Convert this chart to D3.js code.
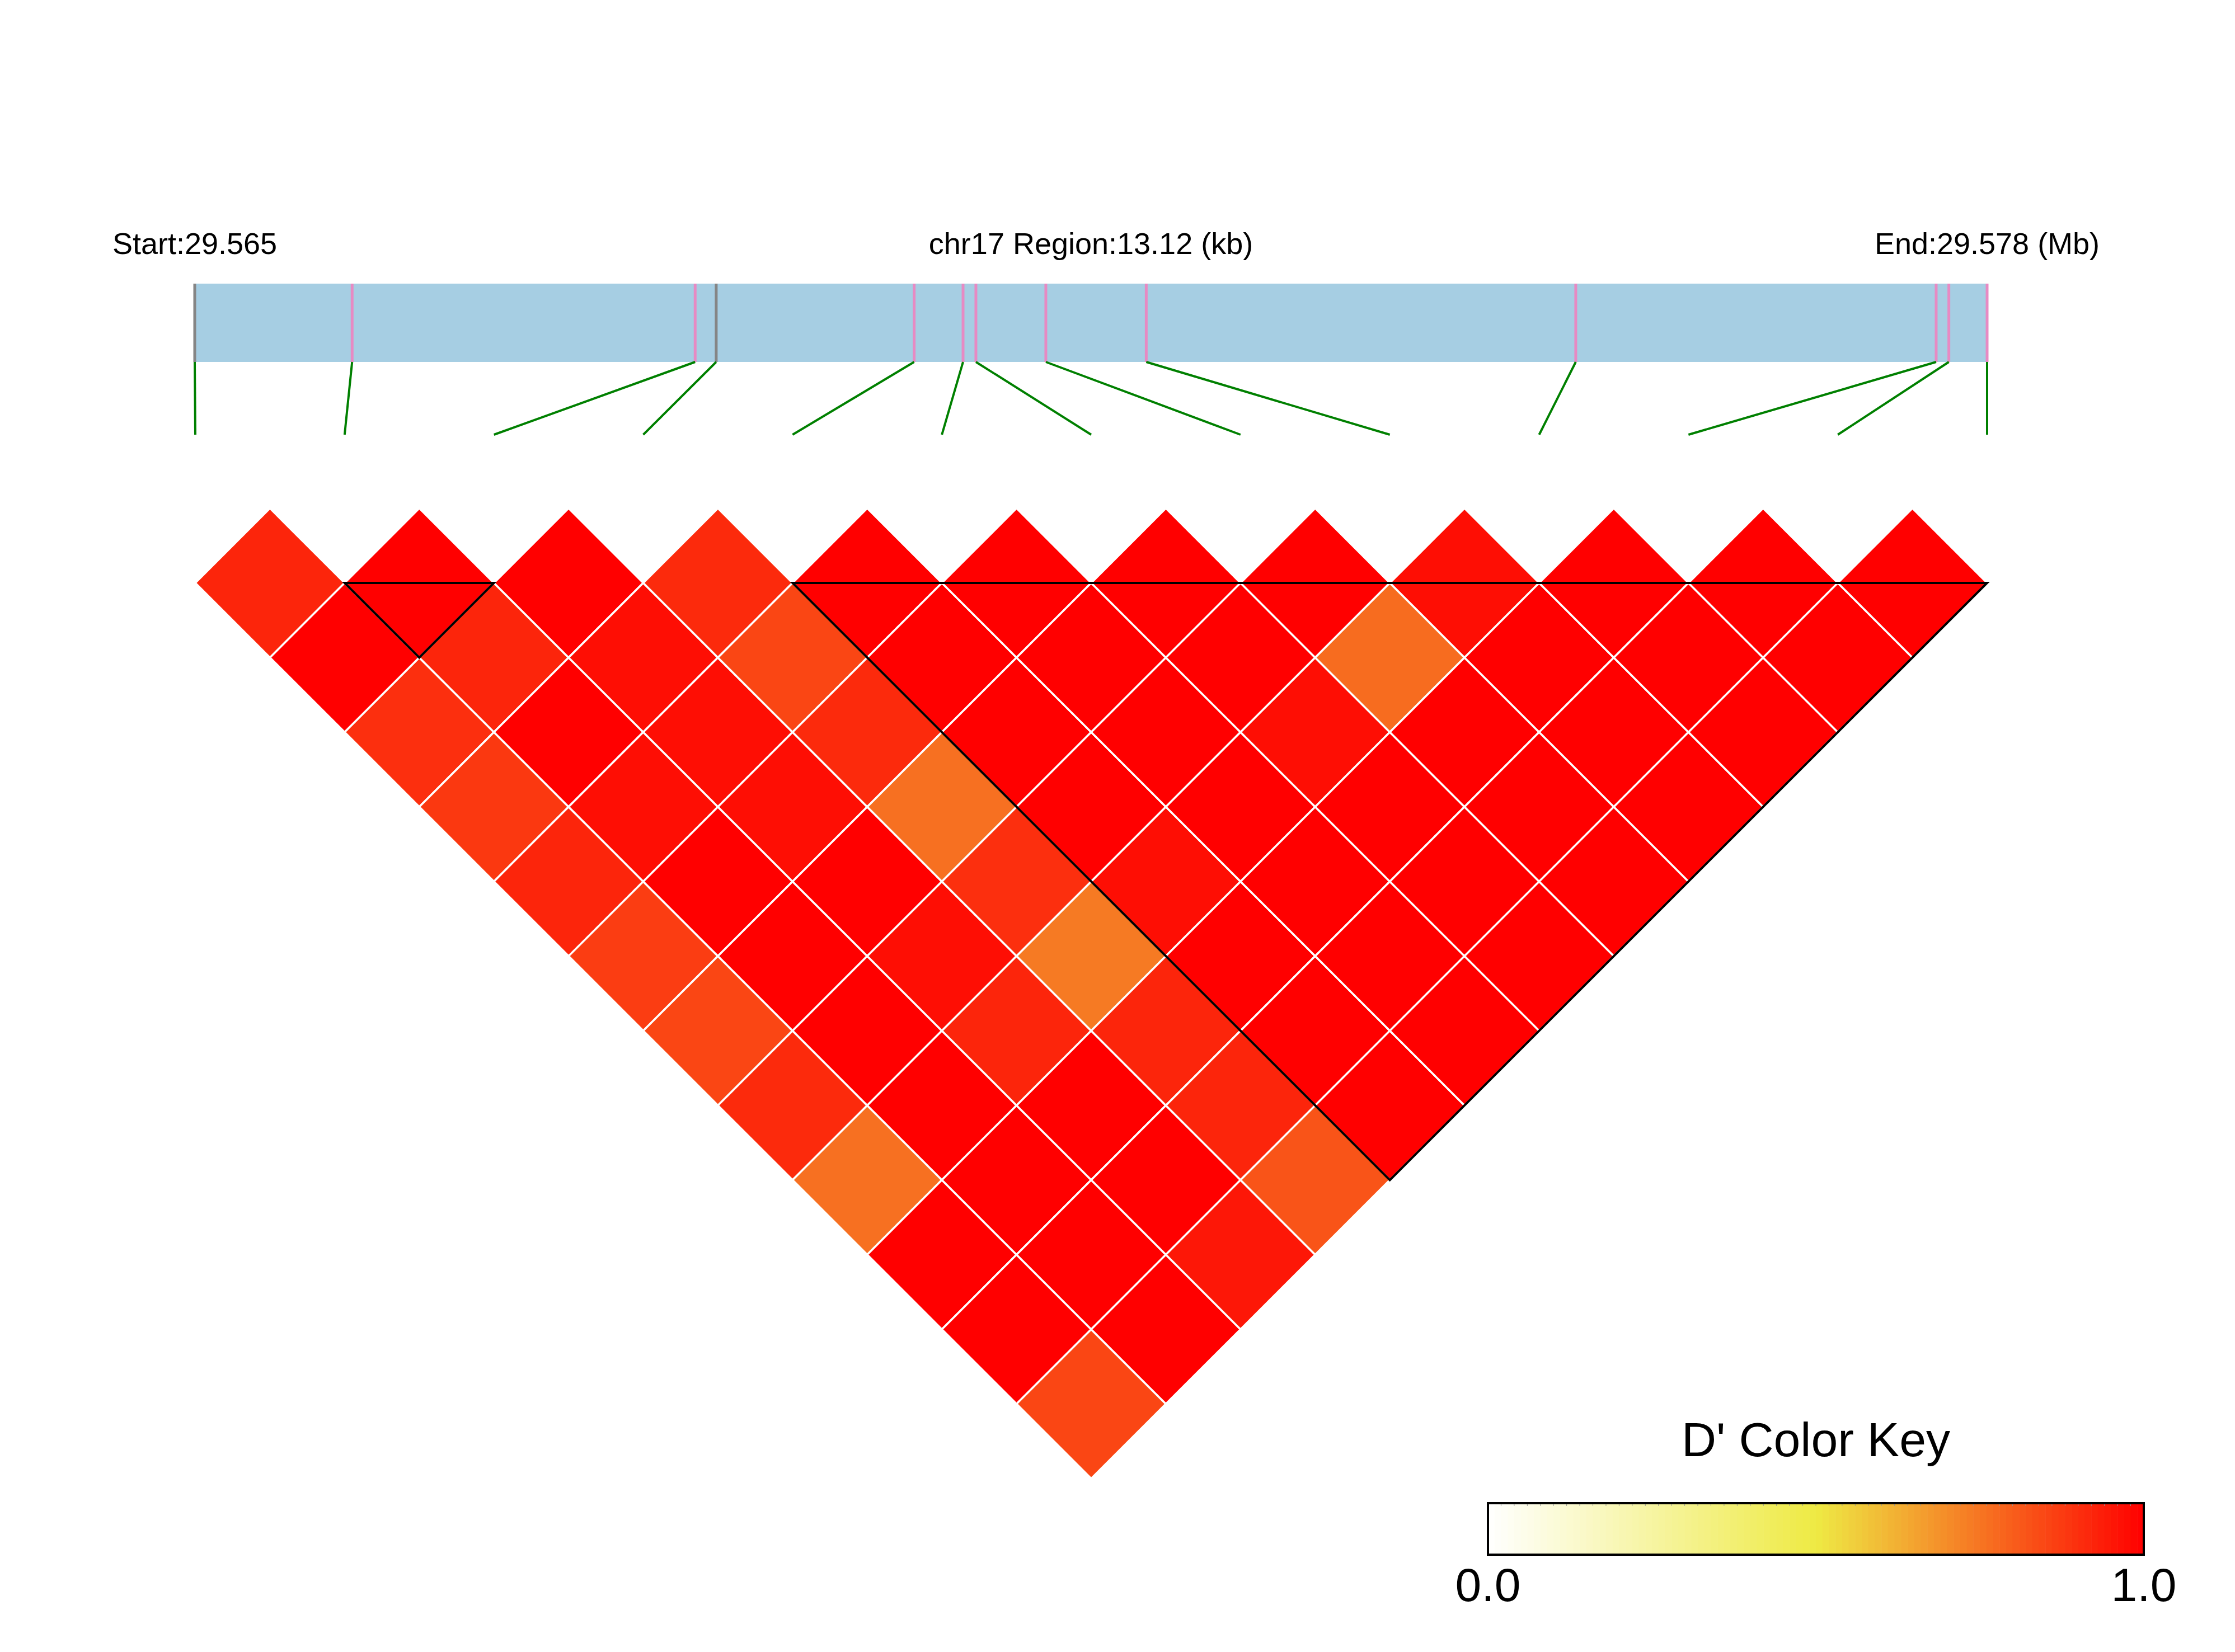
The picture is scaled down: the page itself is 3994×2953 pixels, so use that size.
<!DOCTYPE html>
<html>
<head>
<meta charset="utf-8">
<script src="https://d3js.org/d3.v7.min.js"></script>
<style>
  body { margin: 0; background: #fff; }
  text { font-family: "Liberation Sans", Arial, Helvetica, sans-serif; }
</style>
</head>
<body>
<div id="ld_heatmap"></div>
<script>
(function(){

var width = 3994,
	height = 2953;

// SNP positions (bp) on chr17
var chrom = "chr17";
var snpPos = [29565000, 29566152, 29568663, 29568817, 29570266, 29570624, 29570718,
	29571230, 29571965, 29575109, 29577747, 29577840, 29578120];
// marker colour on the gene bar: "g" grey, "p" pink
var snpType = ["g", "p", "p", "g", "p", "p", "p", "p", "p", "p", "p", "p", "p"];

// D' values, row i holds pairs (i, i+1) ... (i, 12)
var dprime = [
	[0.92, 1.00, 0.90, 0.88, 0.92, 0.87, 0.85, 0.91, 0.76, 1.00, 1.00, 0.85],
	[1.00, 0.92, 1.00, 0.97, 1.00, 1.00, 1.00, 1.00, 1.00, 1.00, 1.00],
	[1.00, 0.97, 0.97, 0.97, 1.00, 0.97, 0.92, 1.00, 1.00, 0.95],
	[0.91, 0.85, 0.91, 0.76, 0.90, 0.74, 0.92, 0.92, 0.82],
	[1.00, 1.00, 1.00, 1.00, 0.97, 1.00, 1.00, 1.00],
	[1.00, 1.00, 1.00, 1.00, 1.00, 1.00, 1.00],
	[1.00, 1.00, 0.97, 1.00, 1.00, 1.00],
	[1.00, 0.77, 1.00, 1.00, 1.00],
	[0.97, 1.00, 1.00, 1.00],
	[1.00, 1.00, 1.00],
	[1.00, 1.00],
	[1.00]
];

// haplotype blocks (first SNP, last SNP)
var blocks = [[1, 2], [4, 12]];

var keyTicks = [0, 1];

var svg = d3.select("#ld_heatmap")
	.append("svg")
	.attr("width", width)
	.attr("height", height)
	.style("background", "#fff");

var n = snpPos.length;

var xPos = d3.scaleLinear()
	.domain([snpPos[0], snpPos[n - 1]])
	.range([348, 3551]);

var xIdx = d3.scaleLinear()
	.domain([0, n - 1])
	.range([349, 3551]);

var half = (xIdx(1) - xIdx(0)) / 2;
var rowTop = 1042;
var barTop = 507, barBot = 647, lineEnd = 777;

var color = d3.scaleLinear()
	.domain([0, 0.5, 1])
	.range(["#ffffff", "#eeea44", "#ff0000"])
	.interpolate(d3.interpolateRgb);

function binColor(v){
	var b = Math.min(99, Math.floor(v * 100));
	return color((b + 0.5) / 100 >= 0.995 ? 1 : v);
}

// header text
svg.append("text")
	.attr("x", xPos(snpPos[0]))
	.attr("y", 454)
	.attr("text-anchor", "middle")
	.attr("font-size", 54)
	.text("Start:" + (snpPos[0] / 1e6).toFixed(3));

svg.append("text")
	.attr("x", (xPos.range()[0] + xPos.range()[1]) / 2)
	.attr("y", 454)
	.attr("text-anchor", "middle")
	.attr("font-size", 54)
	.text(chrom + " Region:" + ((snpPos[n - 1] - snpPos[0]) / 1000).toFixed(2) + " (kb)");

svg.append("text")
	.attr("x", xPos(snpPos[n - 1]))
	.attr("y", 454)
	.attr("text-anchor", "middle")
	.attr("font-size", 54)
	.text("End:" + (snpPos[n - 1] / 1e6).toFixed(3) + " (Mb)");

// gene bar
svg.append("rect")
	.attr("x", xPos.range()[0])
	.attr("y", barTop)
	.attr("width", xPos.range()[1] - xPos.range()[0])
	.attr("height", barBot - barTop)
	.attr("fill", "#a6cee3");

svg.selectAll(".snpmark")
	.data(snpPos)
	.enter()
	.append("line")
	.attr("class", "snpmark")
	.attr("x1", function(d){ return xPos(d); })
	.attr("x2", function(d){ return xPos(d); })
	.attr("y1", barTop)
	.attr("y2", barBot)
	.attr("stroke", function(d, i){ return snpType[i] == "g" ? "#858585" : "#e78ac3"; })
	.attr("stroke-width", 5);

svg.selectAll(".snplink")
	.data(snpPos)
	.enter()
	.append("line")
	.attr("class", "snplink")
	.attr("x1", function(d){ return xPos(d); })
	.attr("y1", barBot)
	.attr("x2", function(d, i){ return xIdx(i); })
	.attr("y2", lineEnd)
	.attr("stroke", "#008000")
	.attr("stroke-width", 4);

// heatmap cells
var cells = [];
dprime.forEach(function(row, i){
	row.forEach(function(v, k){
		cells.push({i: i, j: i + k + 1, v: v});
	});
});

svg.selectAll(".cell")
	.data(cells)
	.enter()
	.append("path")
	.attr("class", "cell")
	.attr("d", function(d){
		var cx = xIdx((d.i + d.j) / 2),
			cy = rowTop + (d.j - d.i - 1) * half;
		return "M" + cx + "," + (cy - half) + "L" + (cx + half) + "," + cy +
			"L" + cx + "," + (cy + half) + "L" + (cx - half) + "," + cy + "Z";
	})
	.attr("fill", function(d){ return binColor(d.v); })
	.attr("stroke", "#fff")
	.attr("stroke-width", 3.5);

// block outlines
svg.selectAll(".block")
	.data(blocks)
	.enter()
	.append("path")
	.attr("class", "block")
	.attr("d", function(d){
		var a = d[0], b = d[1];
		return "M" + xIdx(a) + "," + rowTop + "L" + xIdx(b) + "," + rowTop +
			"L" + xIdx((a + b) / 2) + "," + (rowTop + (b - a) * half) + "Z";
	})
	.attr("fill", "none")
	.attr("stroke", "#000")
	.attr("stroke-width", 4)
	.attr("stroke-linejoin", "miter");

// colour key
var keyX = d3.scaleLinear().domain([0, 1]).range([2659, 3831]);
var keyTop = 2687, keyH = 92;
var bins = d3.range(100);

svg.append("text")
	.attr("x", (keyX(0) + keyX(1)) / 2)
	.attr("y", 2603)
	.attr("text-anchor", "middle")
	.attr("font-size", 86)
	.text("D' Color Key");

svg.selectAll(".keybin")
	.data(bins)
	.enter()
	.append("rect")
	.attr("class", "keybin")
	.attr("x", function(d){ return keyX(d / 100); })
	.attr("y", keyTop)
	.attr("width", keyX(0.01) - keyX(0) + 0.6)
	.attr("height", keyH)
	.attr("fill", function(d){ return color((d + 0.5) / 100); });

svg.selectAll(".keytick")
	.data(bins.filter(function(d){ return d % 2 == 0; }))
	.enter()
	.append("line")
	.attr("class", "keytick")
	.attr("x1", function(d){ return keyX(d / 100); })
	.attr("x2", function(d){ return keyX(d / 100); })
	.attr("y1", keyTop)
	.attr("y2", keyTop + 5)
	.attr("stroke", "#999")
	.attr("stroke-width", 1);

svg.append("rect")
	.attr("x", keyX(0))
	.attr("y", keyTop)
	.attr("width", keyX(1) - keyX(0))
	.attr("height", keyH)
	.attr("fill", "none")
	.attr("stroke", "#000")
	.attr("stroke-width", 4);

svg.selectAll(".keylabel")
	.data(keyTicks)
	.enter()
	.append("text")
	.attr("class", "keylabel")
	.attr("x", function(d){ return keyX(d); })
	.attr("y", 2862)
	.attr("text-anchor", "middle")
	.attr("font-size", 84)
	.text(function(d){ return d.toFixed(1); });

})();
</script>
</body>
</html>
